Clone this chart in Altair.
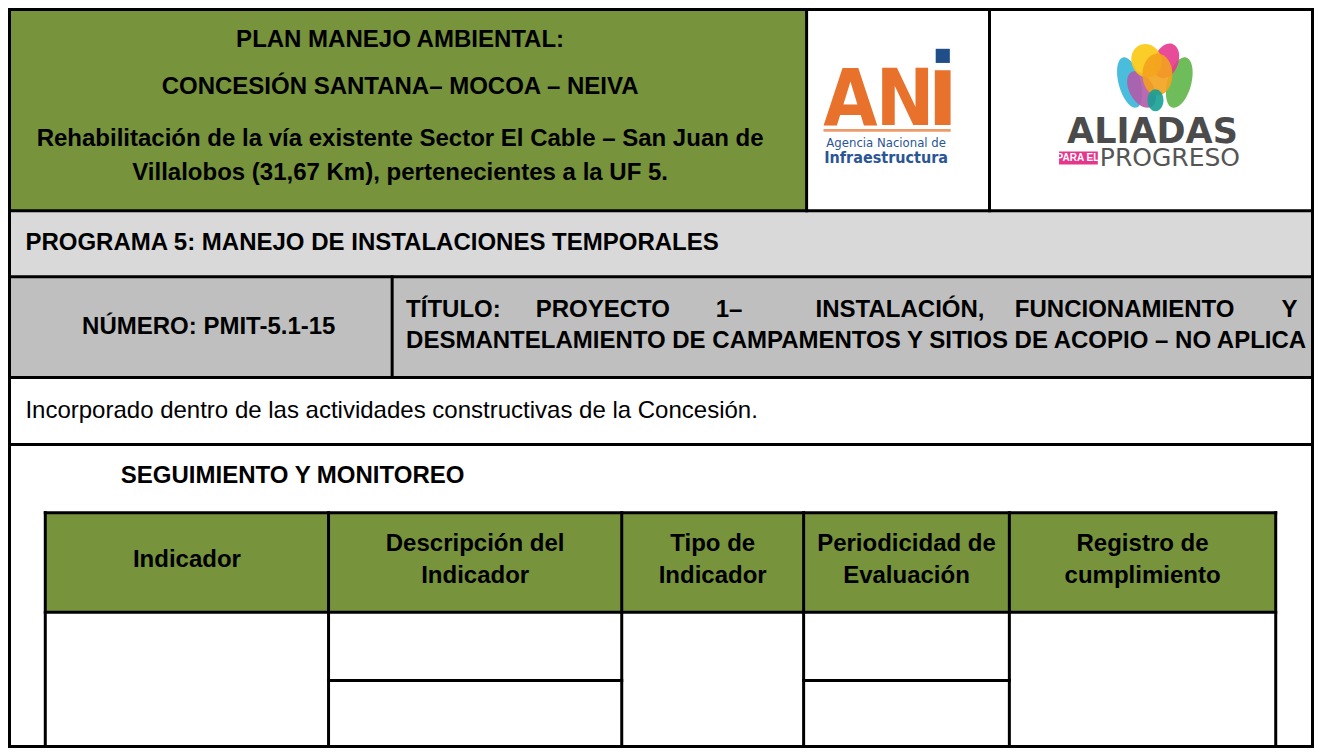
import altair as alt
import pandas as pd

W, H = 1306, 740

# ---------------- text content ----------------
HEADER_LINES = [
    "PLAN MANEJO AMBIENTAL:",
    "CONCESIÓN SANTANA– MOCOA – NEIVA",
    "Rehabilitación de la vía existente Sector El Cable – San Juan de",
    "Villalobos (31,67 Km), pertenecientes a la UF 5.",
]
PROGRAMA = "PROGRAMA 5: MANEJO DE INSTALACIONES TEMPORALES"
NUMERO = "NÚMERO: PMIT-5.1-15"
TITULO_L1 = ["TÍTULO:", "PROYECTO", "1–", "INSTALACIÓN,", "FUNCIONAMIENTO", "Y"]
TITULO_L2 = "DESMANTELAMIENTO DE CAMPAMENTOS Y SITIOS DE ACOPIO – NO APLICA"
DESCRIPCION = "Incorporado dentro de las actividades constructivas de la Concesión."
SECCION = "SEGUIMIENTO Y MONITOREO"
COLUMNAS = [
    ["Indicador"],
    ["Descripción del", "Indicador"],
    ["Tipo de", "Indicador"],
    ["Periodicidad de", "Evaluación"],
    ["Registro de", "cumplimiento"],
]
ANI_LETTERS = ["A", "N", "ı"]
ANI_SUB = ["Agencia Nacional de", "Infraestructura"]
ALIADAS = ["ALIADAS", "PARA EL", "PROGRESO"]

# ---------------- document grid (reference page px) ----------------
PAGE_X = [6, 1317]
PAGE_Y = [6, 753]
ROW_EDGES = [6, 210, 277, 379, 447, 753]
HEAD_COLS = [6, 808, 992, 1317]
NUM_SPLIT = 391
INNER_COLS = [42, 327, 622, 805, 1012, 1280]
INNER_ROWS = [516, 617, 686, 753]
HEADER_LINE_Y = [37, 85, 137, 172]
TITLE_WORD_X = [405, 603, 730, 902, 1128, 1302]
TITLE_WORD_ALIGN = ["left", "center", "center", "center", "center", "right"]

GREEN = "#77933c"
GRAY_L = "#d9d9d9"
GRAY_D = "#bfbfbf"
ORANGE = "#e8722c"
BLUE = "#2a5596"

XS = alt.Scale(domain=PAGE_X, range=[1.5, W - 1.5], nice=False, zero=False)
YS = alt.Scale(domain=PAGE_Y, range=[1.5, H - 1.5], nice=False, zero=False)


def X(f="x"):
    return alt.X(f"{f}:Q", scale=XS, axis=None)


def Y(f="y"):
    return alt.Y(f"{f}:Q", scale=YS, axis=None)


# ---------------- cell fills ----------------
cells = pd.DataFrame([
    dict(x=HEAD_COLS[0], x2=HEAD_COLS[1], y=ROW_EDGES[0], y2=ROW_EDGES[1], c=GREEN),
    dict(x=PAGE_X[0], x2=PAGE_X[1], y=ROW_EDGES[1], y2=ROW_EDGES[2], c=GRAY_L),
    dict(x=PAGE_X[0], x2=PAGE_X[1], y=ROW_EDGES[2], y2=ROW_EDGES[3], c=GRAY_D),
    dict(x=INNER_COLS[0], x2=INNER_COLS[-1], y=INNER_ROWS[0], y2=INNER_ROWS[1], c=GREEN),
    # logo pieces
    dict(x=825, x2=953, y=127, y2=130, c="#ee9a6a"),
    dict(x=1062, x2=1101, y=150, y2=163, c="#e5368b"),
])
cell_layer = alt.Chart(cells).mark_rect().encode(
    x=X(), x2="x2:Q", y=Y(), y2="y2:Q", color=alt.Color("c:N", scale=None))

# ---------------- borders ----------------
hl = [(PAGE_X[0], PAGE_X[1], y) for y in ROW_EDGES]
hl += [(INNER_COLS[0], INNER_COLS[-1], INNER_ROWS[0]), (INNER_COLS[0], INNER_COLS[-1], INNER_ROWS[1]),
       (INNER_COLS[1], INNER_COLS[2], INNER_ROWS[2]), (INNER_COLS[3], INNER_COLS[4], INNER_ROWS[2])]
hdf = pd.DataFrame(hl, columns=["x", "x2", "y"])
vl = [(PAGE_X[0], PAGE_Y[0], PAGE_Y[1]), (PAGE_X[1], PAGE_Y[0], PAGE_Y[1]),
      (HEAD_COLS[1], ROW_EDGES[0], ROW_EDGES[1]), (HEAD_COLS[2], ROW_EDGES[0], ROW_EDGES[1]),
      (NUM_SPLIT, ROW_EDGES[2], ROW_EDGES[3])]
vl += [(x, INNER_ROWS[0], INNER_ROWS[-1]) for x in INNER_COLS]
vdf = pd.DataFrame(vl, columns=["x", "y", "y2"])
h_layer = alt.Chart(hdf).mark_rule(color="black", strokeWidth=3, strokeCap="square").encode(
    x=X(), x2="x2:Q", y=Y())
v_layer = alt.Chart(vdf).mark_rule(color="black", strokeWidth=3, strokeCap="square").encode(
    x=X(), y=Y(), y2="y2:Q")

# ---------------- texts ----------------
FONT = "Liberation Sans, Arial, sans-serif"
FS = 24


def text_layer(rows, **mark):
    df = pd.DataFrame(rows, columns=["x", "y", "t"])
    props = dict(font=FONT, fontSize=FS, color="black", baseline="middle")
    props.update(mark)
    return alt.Chart(df).mark_text(**props).encode(x=X(), y=Y(), text="t:N")


head_cx = (HEAD_COLS[0] + HEAD_COLS[1]) / 2 - 8
bold_center = [(head_cx, y, t) for t, y in zip(HEADER_LINES, HEADER_LINE_Y)]
bold_center.append(((PAGE_X[0] + NUM_SPLIT) / 2 + 8, 328, NUMERO))
for i, lines in enumerate(COLUMNAS):
    cx = (INNER_COLS[i] + INNER_COLS[i + 1]) / 2
    if len(lines) == 1:
        bold_center.append((cx, 564, lines[0]))
    else:
        bold_center.append((cx, 548, lines[0]))
        bold_center.append((cx, 580, lines[1]))
bold_left = [(22, 243, PROGRAMA), (405, 342, TITULO_L2), (118, 479, SECCION)]
regular_left = [(22, 413, DESCRIPCION)]

layers = [cell_layer,
          text_layer(bold_center, fontWeight="bold", align="center"),
          text_layer(bold_left, fontWeight="bold", align="left"),
          text_layer(regular_left, align="left")]
for w, x, a in zip(TITULO_L1, TITLE_WORD_X, TITLE_WORD_ALIGN):
    layers.append(text_layer([(x, 311, w)], fontWeight="bold", align=a))

# ---------------- ANI logo ----------------
NARROW = "DejaVu Sans Condensed, sans-serif"
layers.append(text_layer([(852, 123, ANI_LETTERS[0]), (907, 123, ANI_LETTERS[1])],
                         font=NARROW, fontSize=78, fontWeight="bold", color=ORANGE,
                         align="center", baseline="alphabetic"))
layers.append(text_layer([(945, 123, ANI_LETTERS[2])], font=NARROW, fontSize=100, fontWeight="bold",
                         color=ORANGE, align="center", baseline="alphabetic"))
sq = pd.DataFrame({"x": [945], "y": [53]})
layers.append(alt.Chart(sq).mark_square(filled=True, opacity=1, color="#1f4e89", size=200)
              .encode(x=X(), y=Y()))
layers.append(text_layer([(888, 141, ANI_SUB[0])], font=NARROW, fontSize=13, color=BLUE, align="center"))
layers.append(text_layer([(888, 157, ANI_SUB[1])], font=NARROW, fontSize=16, fontWeight="bold",
                         color=BLUE, align="center"))

# ---------------- ALIADAS logo ----------------
PET_X = [1133, 1183, 1145, 1170, 1150, 1161, 1159]
PET_Y = [80, 80, 87, 58, 58, 72, 98]
PET_W = [22, 24, 24, 24, 30, 30, 16]
PET_H = [52, 52, 40, 36, 34, 42, 22]
PET_ANG = [345, 15, 330, 20, 340, 0, 0]
PET_C = ["#36b5d8", "#5fb548", "#b25aa9", "#e6398d", "#fbc812", "#f3a21d", "#16a094"]
petals = pd.DataFrame({
    "x": PET_X, "y": PET_Y, "ang": PET_ANG, "c": PET_C,
    "size": [h * h for h in PET_H],
    "shape": [f"M0,-1A{w / h:.3f},1,0,1,1,0,1A{w / h:.3f},1,0,1,1,0,-1Z" for w, h in zip(PET_W, PET_H)],
})
layers.append(alt.Chart(petals).mark_point(filled=True, opacity=0.9, strokeWidth=0).encode(
    x=X(), y=Y(), color=alt.Color("c:N", scale=None), size=alt.Size("size:Q", scale=None),
    shape=alt.Shape("shape:N", scale=None), angle=alt.Angle("ang:Q", scale=None)))
layers.append(text_layer([(1156, 130, ALIADAS[0])], font="DejaVu Sans, sans-serif", fontSize=35,
                         fontWeight="bold", color="#4b4b4b", align="center"))
layers.append(text_layer([(1081, 157, ALIADAS[1])], fontSize=10, fontWeight="bold", color="white",
                         align="center"))
layers.append(text_layer([(1103, 157, ALIADAS[2])], font="DejaVu Sans, sans-serif", fontSize=25,
                         color="#555555", align="left"))

layers += [h_layer, v_layer]

chart = alt.layer(*layers).properties(
    width=W, height=H, padding=0, autosize="none", background="white"
).configure_view(stroke=None)

chart.save("out.html", embed_options={"renderer": "svg", "actions": False})
